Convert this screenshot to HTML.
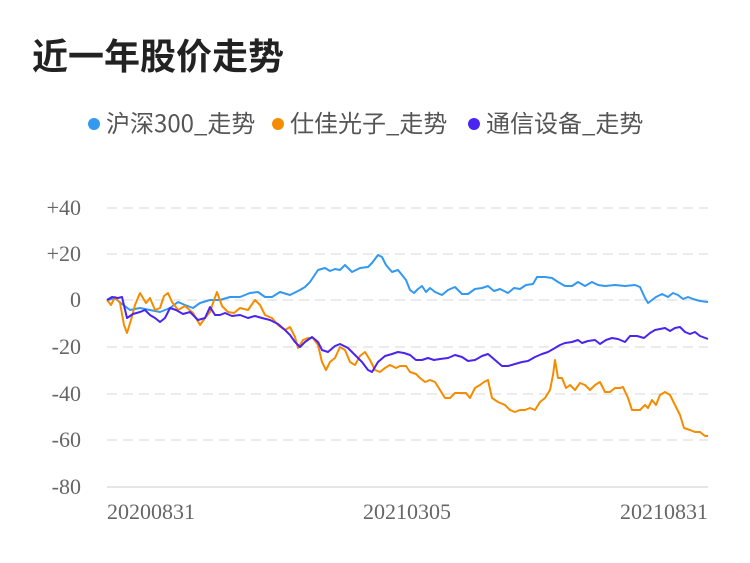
<!DOCTYPE html>
<html><head><meta charset="utf-8"><style>
body{margin:0;background:#fff;width:750px;height:558px;overflow:hidden;font-family:"Liberation Sans","Noto Sans CJK SC",sans-serif}
</style></head><body>
<svg width="750" height="558" xmlns="http://www.w3.org/2000/svg">
<text x="32" y="69" font-size="36" font-weight="bold" fill="#222" font-family="Liberation Sans,Noto Sans CJK SC,sans-serif">近一年股价走势</text>
<g font-size="24" fill="#555" font-family="Noto Sans CJK SC,sans-serif">
<circle cx="94" cy="124" r="6" fill="#3398f0"/><text x="106" y="132">沪深300_走势</text>
<circle cx="278" cy="124" r="6" fill="#f58c00"/><text x="290" y="132">仕佳光子_走势</text>
<circle cx="474" cy="124" r="6" fill="#4a24f0"/><text x="486" y="132">通信设备_走势</text>
</g>
<g stroke="#ebebeb" stroke-width="2" stroke-dasharray="10,6">
<line x1="107" y1="208" x2="708" y2="208"/><line x1="107" y1="254" x2="708" y2="254"/>
<line x1="107" y1="300" x2="708" y2="300"/><line x1="107" y1="347" x2="708" y2="347"/>
<line x1="107" y1="394" x2="708" y2="394"/><line x1="107" y1="440" x2="708" y2="440"/>
</g>
<line x1="107" y1="487" x2="708" y2="487" stroke="#ddd" stroke-width="1.5"/>
<g font-size="22" fill="#666" text-anchor="end" font-family="Liberation Serif,serif">
<text x="81" y="215">+40</text><text x="81" y="261">+20</text><text x="81" y="307">0</text>
<text x="81" y="354">-20</text><text x="81" y="401">-40</text><text x="81" y="447">-60</text><text x="81" y="494">-80</text>
</g>
<g font-size="22" fill="#666" font-family="Liberation Serif,serif">
<text x="107" y="519">20200831</text><text x="363" y="519">20210305</text><text x="620" y="519">20210831</text>
</g>
<g fill="none" stroke-width="2" stroke-linejoin="round">
<polyline stroke="#3398f0" points="107,300 115,298 122,304 130,310 140,308 150,310 160,312 170,308 178,302 185,305 193,308 200,303 210,300 220,300 230,297 240,297 250,293 258,292 265,297 272,297 280,292 290,295 300,290 305,287 310,282 318,270 325,268 330,271 335,269 340,270 345,265 352,272 360,268 368,267 372,263 378,255 382,257 386,265 392,272 398,270 402,275 406,280 410,290 414,293 418,289 422,286 426,292 430,288 435,292 442,295 448,290 455,287 462,294 468,294 475,289 482,288 488,286 494,291 500,289 508,293 514,288 520,289 526,285 533,284 537,277 545,277 552,278 558,282 565,286 572,286 578,282 585,286 592,282 598,285 605,286 615,285 625,286 635,285 640,287 645,298 648,303 652,300 656,297 662,294 668,297 673,293 678,295 683,299 688,297 693,299 700,301 708,302"/>
<polyline stroke="#f58c00" points="107,300 111,305 115,297 120,303 124,325 127,333 131,320 135,305 140,293 146,303 150,298 155,310 160,308 164,296 168,293 172,302 178,310 185,306 193,313 200,325 205,318 210,312 214,300 217,292 222,306 228,312 234,313 240,308 248,310 255,300 260,305 265,315 272,318 278,325 285,330 290,327 295,337 298,348 303,340 308,338 313,338 318,345 322,362 326,370 330,362 335,358 340,347 345,350 350,362 355,365 360,356 365,352 370,360 375,370 380,372 385,368 390,365 396,368 400,366 406,366 410,372 416,374 420,378 425,382 430,380 435,382 440,390 445,398 450,398 455,393 460,393 466,393 470,398 475,388 480,385 484,382 488,380 492,398 498,402 505,405 510,410 515,412 520,410 525,410 530,408 535,410 540,402 545,398 550,390 553,375 555,360 558,378 562,378 566,388 570,385 575,390 580,383 585,385 590,390 595,385 600,382 605,392 610,392 615,388 620,388 623,387 628,398 632,410 640,410 645,405 648,408 652,400 656,405 660,395 665,392 670,395 675,405 680,415 684,428 690,430 695,432 700,432 705,436 708,436"/>
<polyline stroke="#4a24f0" points="107,300 112,297 118,298 122,297 127,318 133,314 140,312 145,310 150,315 155,318 160,322 165,318 170,308 176,310 183,314 190,312 198,320 205,318 210,307 215,315 220,315 225,313 232,316 240,315 248,318 255,316 262,318 270,320 278,324 285,330 290,335 295,342 300,347 305,342 312,337 318,342 322,350 328,352 335,346 340,344 348,348 355,355 362,362 368,370 372,372 378,362 385,356 392,354 398,352 404,353 410,355 416,360 422,360 428,358 434,360 440,359 448,358 455,355 462,357 468,361 475,360 482,356 488,354 495,360 502,366 508,366 515,364 522,362 528,361 535,357 542,354 548,352 555,348 560,345 565,343 572,342 578,340 582,343 588,341 595,340 600,344 606,340 612,338 618,339 625,342 630,336 637,336 644,338 650,333 655,330 660,329 665,328 670,331 675,328 680,327 685,332 690,334 695,332 700,336 708,339"/>
</g>
</svg>
</body></html>
